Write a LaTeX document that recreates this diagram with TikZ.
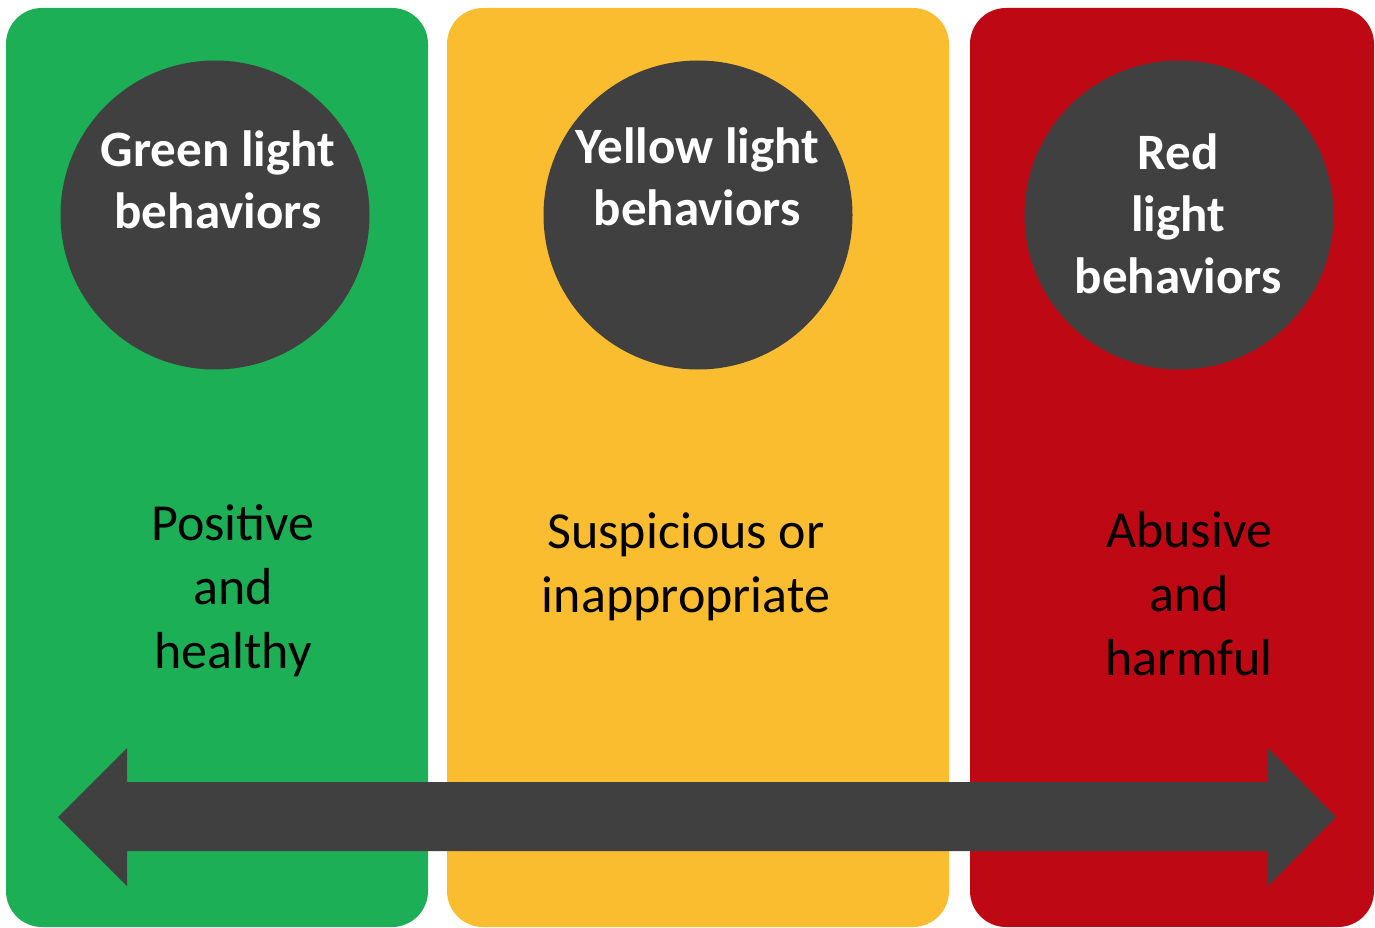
\documentclass[tikz,border=0pt]{standalone}
\usepackage{fontspec}
\setmainfont{Carlito}
\definecolor{gogreen}{HTML}{1DAF56}
\definecolor{cautionyellow}{HTML}{FBBD30}
\definecolor{stopred}{HTML}{BE0814}
\definecolor{charcoal}{HTML}{404040}
\begin{document}
\begin{tikzpicture}[x=1pt,y=-1pt,
  panel/.style={rounded corners=36pt},
  badge/.style={circle,fill=charcoal,minimum size=309pt,inner sep=0pt},
  badgetext/.style={text=white,align=center,font=\bfseries\fontsize{51}{62}\selectfont},
  bodytext/.style={text=black,align=center,font=\fontsize{52}{64}\selectfont}]
\useasboundingbox (0,0) rectangle (1375,928);
% three coloured columns
\fill[gogreen,panel] (6,8) rectangle (428,927);
\fill[cautionyellow,panel] (447,8) rectangle (949,927);
\fill[stopred,panel] (970,8) rectangle (1374,927);
% round headers
\node[badge] (gc) at (215,215) {};
\node[badge] (yc) at (698,215) {};
\node[badge] (rc) at (1179,215) {};
\node[badgetext] (gt) at (218,180) {Green light\\behaviors};
\node[badgetext] (yt) at (697,177) {Yellow light\\behaviors};
\node[badgetext] (rt) at (1178,214) {Red\\light\\behaviors};
% descriptions
\node[bodytext] (gd) at (233,591) {Positive\\and\\healthy};
\node[bodytext] (yd) at (686,567) {Suspicious or\\inappropriate};
\node[bodytext] (rd) at (1189,594) {Abusive\\and\\harmful};
% double-headed scale arrow
\fill[charcoal] (58,817) -- (127,748) -- (127,782) -- (1268,782) -- (1268,748)
  -- (1336,817) -- (1268,886) -- (1268,851) -- (127,851) -- (127,886) -- cycle;
\end{tikzpicture}
\end{document}
